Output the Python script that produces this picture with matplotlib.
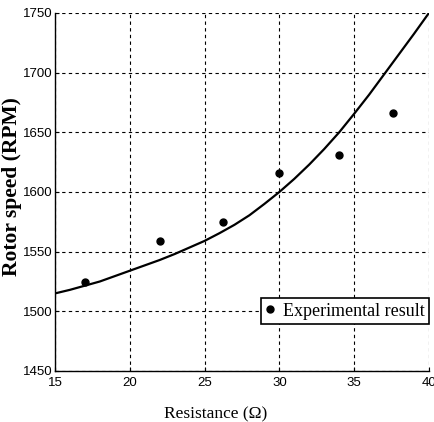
import matplotlib
matplotlib.use('Agg')
from matplotlib import pyplot as plt

# experimental measurements
resistance = [17, 22, 26.2, 30, 34, 37.6]
speed = [1524.5, 1559, 1575, 1616, 1631, 1666]

# fitted curve
curve_r = [15, 16, 17, 18, 19, 20, 21, 22, 23, 24, 25, 26, 27, 28, 29, 30,
           31, 32, 33, 34, 35, 36, 37, 38, 39, 40]
curve_speed = [1515, 1518, 1521.5, 1525, 1529.5, 1534, 1538.5, 1543, 1548,
               1553.5, 1559, 1565.5, 1572.5, 1580.5, 1590, 1600, 1611, 1623,
               1636, 1650, 1665.5, 1681.5, 1698.5, 1715.5, 1732.5, 1750]

xticks = [15, 20, 25, 30, 35, 40]
yticks = [1450, 1500, 1550, 1600, 1650, 1700, 1750]

tick_font = ['Liberation Sans Narrow', 'Liberation Sans', 'DejaVu Sans']
serif = ['Liberation Serif', 'DejaVu Serif']

fig = plt.figure(figsize=(4.35, 4.22), dpi=100)
ax = fig.add_axes([0.1264, 0.1209, 0.8596, 0.8483])

ax.plot(curve_r, curve_speed, color='black', linewidth=1.6)
pts, = ax.plot(resistance, speed, 'o', color='black', markersize=5,
               label='Experimental result')

ax.set_xlim(15, 40)
ax.set_ylim(1450, 1750)
ax.set_xticks(xticks)
ax.set_yticks(yticks)
ax.grid(True, color='black', linestyle=(0, (3, 3)), linewidth=0.8)

ax.spines['top'].set_visible(False)
ax.spines['right'].set_visible(False)
for s in ('left', 'bottom'):
    ax.spines[s].set_linewidth(1.0)
ax.tick_params(direction='in', length=3, width=0.8)
ax.tick_params(axis='x', pad=4)
ax.tick_params(axis='y', pad=2)
for lbl in ax.get_xticklabels() + ax.get_yticklabels():
    lbl.set_family(tick_font)
    lbl.set_fontsize(9.5)

ax.set_ylabel('Rotor speed (RPM)', family=serif, fontweight='bold',
              fontsize=15.5)
ax.yaxis.set_label_coords(-0.088, 0.515)
ax.set_xlabel('Resistance (\u03a9)', family=serif, fontsize=12.5)
ax.xaxis.set_label_coords(0.43, -0.1)

leg = ax.legend(handles=[pts], loc='lower right',
                bbox_to_anchor=(1.0, 0.131), prop={'family': serif, 'size': 13},
                fancybox=False, framealpha=1, edgecolor='black',
                handlelength=0.5, handletextpad=0.45, borderpad=0.25,
                borderaxespad=0)
leg.get_frame().set_linewidth(1.2)

plt.savefig('out.png', dpi=100)
